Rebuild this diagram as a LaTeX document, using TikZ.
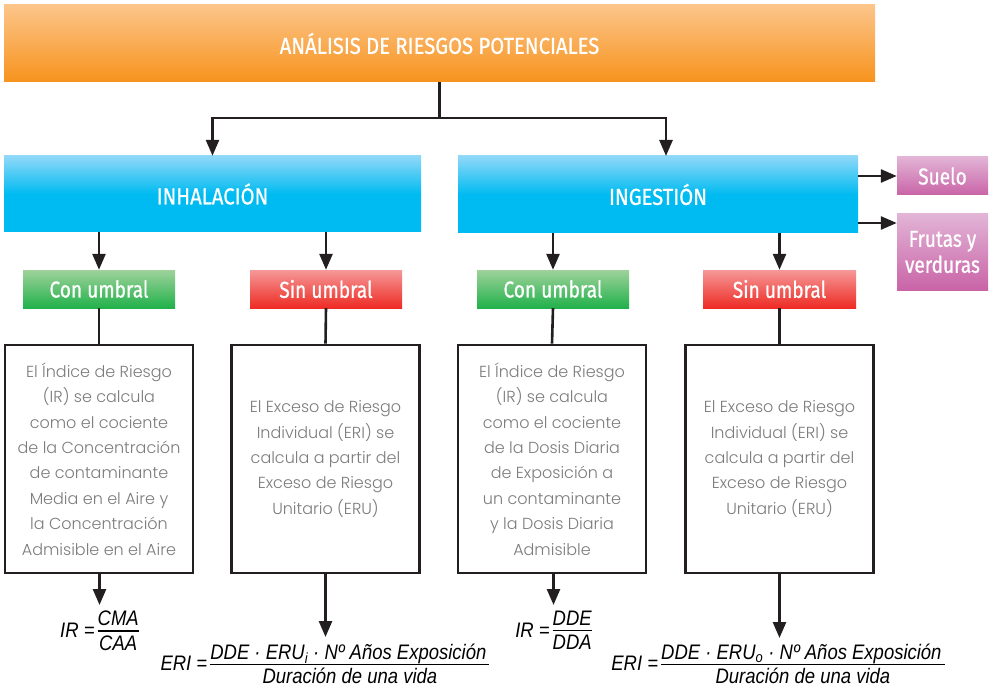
\documentclass[tikz,border=0pt]{standalone}
\usepackage{fontspec}
\usepackage{graphicx}
\setmainfont{Fira Sans}
\newfontfamily\hdr{Fira Sans}[FakeBold=0.9]
\newfontfamily\bodyf{Poppins Light}
\newfontfamily\frm{Liberation Sans}
\usetikzlibrary{arrows.meta}
\definecolor{orT}{HTML}{FCC58A}
\definecolor{orB}{HTML}{F7931D}
\definecolor{blT}{HTML}{90D8F8}
\definecolor{blB}{HTML}{00BBF1}
\definecolor{grT}{HTML}{9ED29A}
\definecolor{grB}{HTML}{21B14B}
\definecolor{rdT}{HTML}{F59898}
\definecolor{rdB}{HTML}{EE2B24}
\definecolor{pkT}{HTML}{E2B4D6}
\definecolor{pkB}{HTML}{C964A7}
\definecolor{lineC}{HTML}{231F20}
\definecolor{txtG}{HTML}{7C7C7C}
\newcommand\hs[1]{\scalebox{0.88}[1]{#1}}
\newcommand\hsl[1]{\scalebox{0.83}[1]{#1}}
\newcommand\fs[1]{\scalebox{0.88}[1]{#1}}
\newcommand\hdrf{\hdr\fontsize{23}{25}\selectfont}
\newcommand\bodyfnt{\bodyf\fontsize{16}{25.4}\selectfont}
\newcommand\frmf{\frm\itshape\fontsize{21}{20}\selectfont}
\newcommand\ffrac[2]{\setlength\arrayrulewidth{1.3pt}\renewcommand\arraystretch{0.5}\begin{tabular}{@{}c@{}}#1\rule[-4.5pt]{0pt}{4.5pt}\\\hline\rule{0pt}{18.5pt}#2\end{tabular}}
\tikzset{
  hbox/.style={rectangle, inner sep=0pt, text=white, align=center, font=\hdrf},
  orangesh/.style={top color=orT, bottom color=orB},
  bluesh/.style={top color=blT, bottom color=blB, middle color=blB},
  greensh/.style={top color=grT, bottom color=grB},
  redsh/.style={top color=rdT, bottom color=rdB},
  pinksh/.style={top color=pkT, bottom color=pkB},
  tbox/.style={rectangle, draw=lineC, line width=2.6pt, fill=white, text=txtG, align=center, font=\bodyfnt, minimum width=188pt, minimum height=228pt, inner sep=0pt},
  formula/.style={anchor=north, inner xsep=0pt, font=\frmf, text=black},
  conn/.style={draw=lineC, line width=2.6pt},
  arr/.style={conn, -{Triangle[width=13pt,length=16pt]}},
}
\begin{document}
\begin{tikzpicture}[x=1pt,y=-1pt]
\useasboundingbox (0,0) rectangle (989,690);
% header
\node[hbox, orangesh, minimum width=871pt, minimum height=77pt] (title) at (439.5,43.5) {\hs{ANÁLISIS DE RIESGOS POTENCIALES}};
\node[hbox, bluesh, minimum width=417pt, minimum height=76pt] (inh) at (212.5,194) {\hs{INHALACIÓN}};
\node[hbox, bluesh, minimum width=400pt, minimum height=77pt] (ing) at (658,194.5) {\hs{INGESTIÓN}};
\node[hbox, pinksh, minimum width=91pt, minimum height=38pt] (suelo) at (942.5,176) {\hsl{Suelo}};
\node[hbox, pinksh, minimum width=91pt, minimum height=76pt] (frutas) at (942.5,252) {\hsl{Frutas y}\\[1pt]\hsl{verduras}};
\node[hbox, greensh, minimum width=152pt, minimum height=38pt] (con1) at (99,289) {\hsl{Con umbral}};
\node[hbox, redsh, minimum width=152pt, minimum height=38pt] (sin1) at (326,289) {\hsl{Sin umbral}};
\node[hbox, greensh, minimum width=152pt, minimum height=38pt] (con2) at (553,289) {\hsl{Con umbral}};
\node[hbox, redsh, minimum width=153pt, minimum height=38pt] (sin2) at (779.5,289) {\hsl{Sin umbral}};
% text boxes
\node[tbox] (box1) at (99,459) {El Índice de Riesgo\\(IR) se calcula\\como el cociente\\de la Concentración\\de contaminante\\Media en el Aire y\\la Concentración\\Admisible en el Aire};
\node[tbox] (box2) at (325.5,459) {El Exceso de Riesgo\\Individual (ERI) se\\calcula a partir del\\Exceso de Riesgo\\Unitario (ERU)};
\node[tbox] (box3) at (552,459) {El Índice de Riesgo\\(IR) se calcula\\como el cociente\\de la Dosis Diaria\\de Exposición a\\un contaminante\\y la Dosis Diaria\\Admisible};
\node[tbox] (box4) at (779.5,459) {El Exceso de Riesgo\\Individual (ERI) se\\calcula a partir del\\Exceso de Riesgo\\Unitario (ERU)};
% formulas
\node[formula, inner ysep=6pt] (f1) at (99.5,605) {\fs{IR =\,\ffrac{CMA}{CAA}}};
\node[formula, inner ysep=7pt] (f2) at (325,637) {\fs{ERI =\,\ffrac{DDE · ERU\textsubscript{i} · Nº Años Exposición\,}{Duración de una vida}}};
\node[formula, inner ysep=6pt] (f3) at (553.5,605) {\fs{IR =\,\ffrac{DDE}{DDA}}};
\node[formula, inner ysep=6pt] (f4) at (778,638) {\fs{ERI =\,\ffrac{DDE · ERU\textsubscript{o} · Nº Años Exposición\,}{Duración de una vida}}};
% connectors
\coordinate (split) at (439.5,118);
\coordinate (ingin) at (666,156);
\draw[conn] (title.south) -- (split);
\draw[arr] (split) -| (inh.north);
\draw[arr] (split) -| (ingin);
\draw[arr] (con1.north |- inh.south) -- (con1.north);
\draw[arr] (sin1.north |- inh.south) -- (sin1.north);
\draw[arr] (con2.north |- ing.south) -- (con2.north);
\draw[arr] (sin2.north |- ing.south) -- (sin2.north);
\draw[arr] (ing.east |- suelo.west) -- (suelo.west);
\coordinate (frin) at ([yshift=29pt]frutas.west);
\draw[arr] (ing.east |- frin) -- (frin);
\draw[conn] (con1.south) -- (box1.north);
\draw[conn] (sin1.south) -- (box2.north);
\draw[conn] (con2.south) -- (box3.north);
\draw[conn] (sin2.south) -- (box4.north);
\draw[arr] (box1.south -| f1.north) -- (f1.north);
\draw[arr] (box2.south) -- (box2.south |- f2.north);
\draw[arr] (box3.south -| f3.north) -- (f3.north);
\draw[arr] (box4.south) -- (box4.south |- f4.north);
\end{tikzpicture}
\end{document}
